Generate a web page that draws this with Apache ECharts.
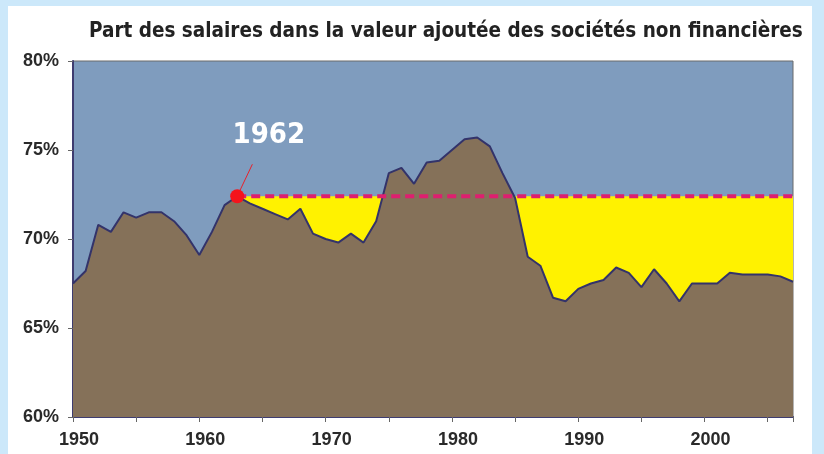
<!DOCTYPE html>
<html>
<head>
<meta charset="utf-8">
<script src="https://cdn.jsdelivr.net/npm/echarts@6/dist/echarts.min.js"></script>
<style>
  html, body { margin: 0; padding: 0; background: #cce8fa; }
  #sheet { position: absolute; left: 8px; top: 6px; width: 804px; height: 448px; background: #fff; }
  #chart { position: absolute; left: 0; top: 0; width: 824px; height: 454px; }
</style>
</head>
<body>
<div id="sheet"></div>
<div id="chart"></div>
<script>
var years = [1950, 1951, 1952, 1953, 1954, 1955, 1956, 1957, 1958, 1959,
             1960, 1961, 1962, 1963, 1964, 1965, 1966, 1967, 1968, 1969,
             1970, 1971, 1972, 1973, 1974, 1975, 1976, 1977, 1978, 1979,
             1980, 1981, 1982, 1983, 1984, 1985, 1986, 1987, 1988, 1989,
             1990, 1991, 1992, 1993, 1994, 1995, 1996, 1997, 1998, 1999,
             2000, 2001, 2002, 2003, 2004, 2005, 2006, 2007];
var share = [67.5, 68.2, 70.8, 70.4, 71.5, 71.2, 71.5, 71.5, 71.0, 70.2,
             69.1, 70.4, 71.9, 72.4, 72.0, 71.7, 71.4, 71.1, 71.7, 70.3,
             70.0, 69.8, 70.3, 69.8, 71.0, 73.7, 74.0, 73.1, 74.3, 74.4,
             75.0, 75.6, 75.7, 75.2, 73.7, 72.3, 69.0, 68.5, 66.7, 66.5,
             67.2, 67.5, 67.7, 68.4, 68.1, 67.3, 68.3, 67.5, 66.5, 67.5,
             67.5, 67.5, 68.1, 68.0, 68.0, 68.0, 67.9, 67.6];
var refYear = 1963;
var refValue = 72.4;
var refLabel = "1962";
var yTicks = [60, 65, 70, 75, 80];

var narrow = "'Liberation Sans Narrow', 'DejaVu Sans Condensed', sans-serif";
var chart = echarts.init(document.getElementById("chart"));

var lineData = years.map(function (y, i) { return [y, share[i]]; });
var refData = [[refYear, refValue], [years[years.length - 1], refValue]];

var option = {
  animation: false,
  title: {
    text: "Part des salaires dans la valeur ajoutée des sociétés non financières",
    left: 84,
    top: 16,
    textStyle: { fontFamily: narrow, fontSize: 20.5, fontWeight: "bold", color: "#222" }
  },
  grid: {
    left: 73, right: 31, top: 61, bottom: 37,
    show: true, backgroundColor: "#7f9cbe", borderColor: "#6a6a6a", borderWidth: 1
  },
  xAxis: {
    type: "value",
    min: 1950, max: 2007, interval: 5,
    splitLine: { show: false },
    axisLine: { lineStyle: { color: "#3e3c70", width: 2 } },
    axisTick: { length: 5, lineStyle: { color: "#666" } },
    axisLabel: {
      margin: 14,
      padding: [0, 0, 0, 12],
      fontFamily: "'Liberation Sans', Arial, sans-serif",
      fontSize: 18, fontWeight: "bold", color: "#2a2a2a",
      formatter: function (v) { return v % 10 === 0 ? String(v) : ""; }
    }
  },
  yAxis: {
    type: "value",
    min: yTicks[0], max: yTicks[yTicks.length - 1], interval: 5,
    splitLine: { show: false },
    axisLine: { show: true, lineStyle: { color: "#3e3c70", width: 2 } },
    axisTick: { show: true, length: 5, lineStyle: { color: "#666" } },
    axisLabel: {
      margin: 14,
      fontFamily: "'Liberation Sans', Arial, sans-serif",
      fontSize: 18, fontWeight: "bold", color: "#2a2a2a",
      formatter: "{value}%"
    }
  },
  series: [
    {
      name: "gap",
      type: "line",
      data: refData,
      symbol: "none",
      lineStyle: { width: 0 },
      areaStyle: { color: "#fff200", opacity: 1, origin: "start" },
      z: 1
    },
    {
      name: "part",
      type: "line",
      data: lineData,
      symbol: "none",
      lineStyle: { color: "#33336a", width: 2 },
      areaStyle: { color: "#857159", opacity: 1, origin: "start" },
      z: 2
    },
    {
      name: "ref",
      type: "line",
      data: refData,
      symbol: "none",
      lineStyle: { color: "#de1f6f", width: 4, type: [9, 5] },
      z: 3
    },
    {
      name: "pointer",
      type: "line",
      data: [[refYear, refValue], [refYear + 1.2, refValue + 1.8]],
      symbol: "none",
      lineStyle: { color: "#e8202a", width: 1 },
      z: 4
    },
    {
      name: "dot",
      type: "scatter",
      data: [[refYear, refValue]],
      symbolSize: 14,
      itemStyle: { color: "#f5141c", opacity: 1 },
      z: 5
    },
    {
      name: "label",
      type: "scatter",
      data: [[refYear + 2.5, refValue + 3.4]],
      symbolSize: 0,
      itemStyle: { opacity: 1 },
      label: {
        show: true, position: "inside",
        formatter: refLabel,
        fontFamily: narrow, fontSize: 29, fontWeight: "bold", color: "#ffffff"
      },
      z: 5
    }
  ]
};
chart.setOption(option);
</script>
</body>
</html>
